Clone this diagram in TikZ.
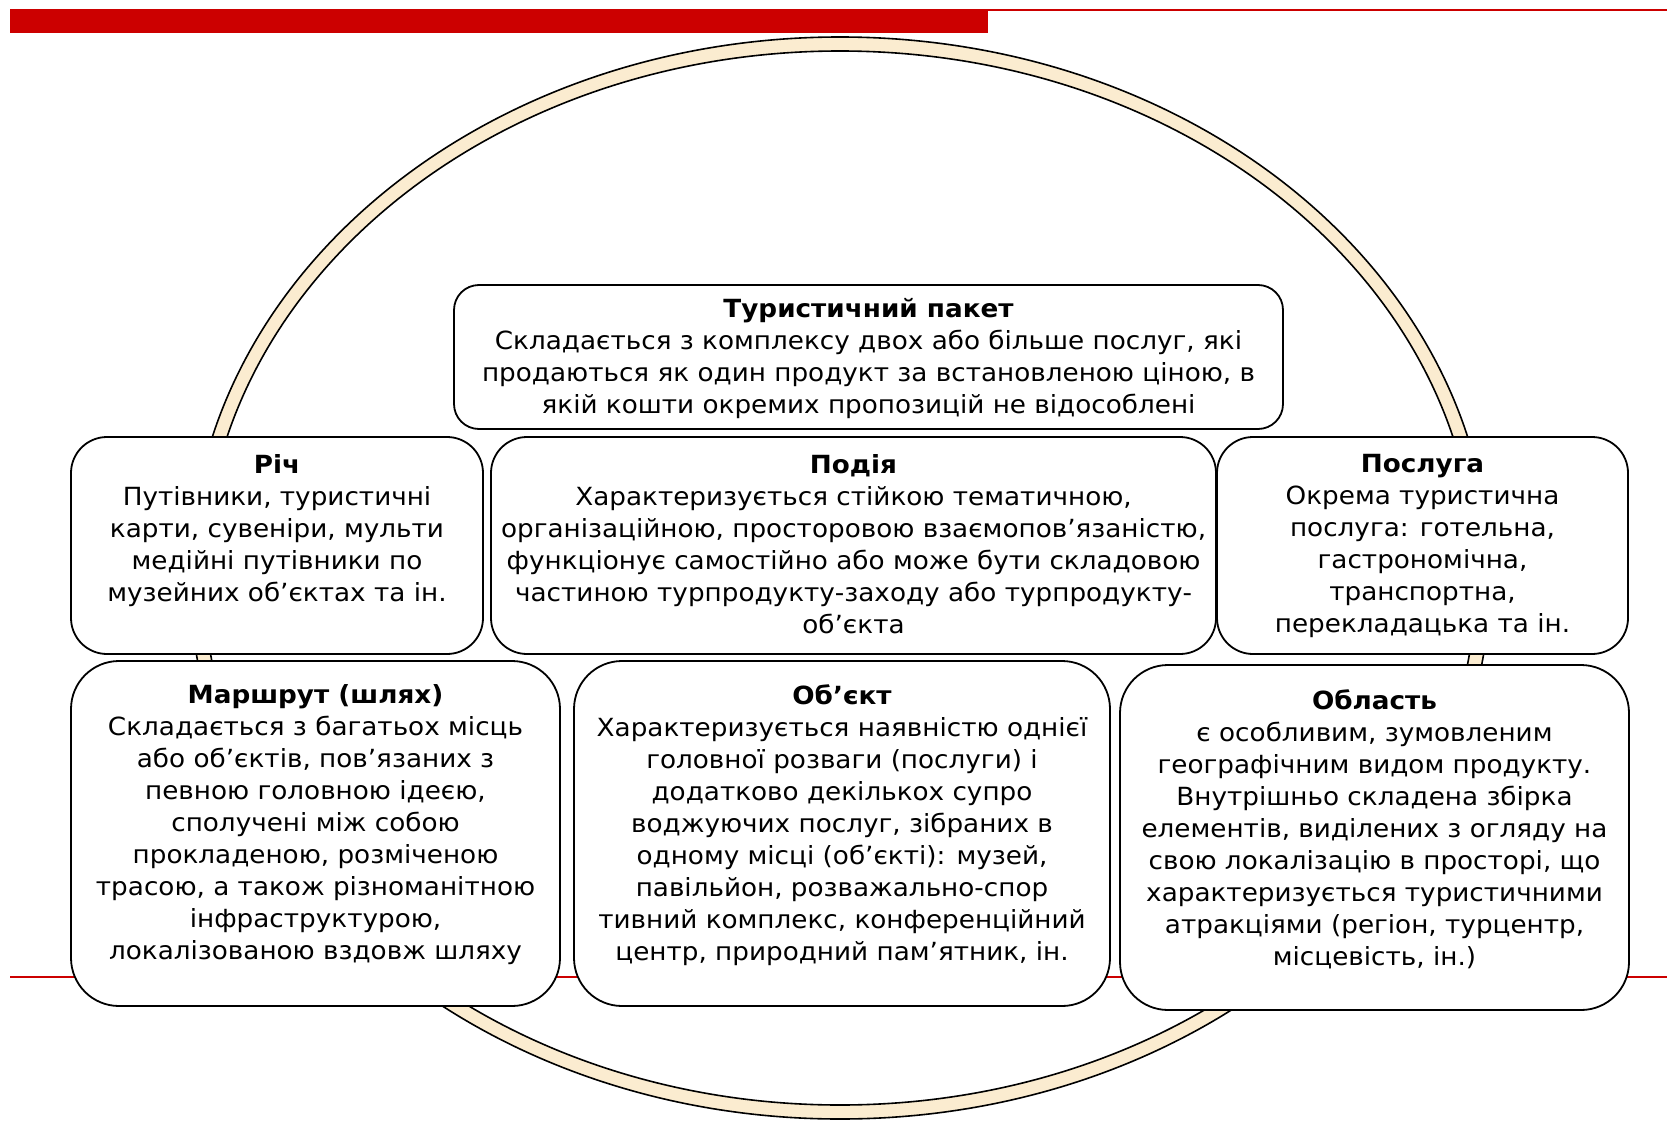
\documentclass[tikz,border=0pt]{standalone}
\usepackage{fontspec}
\setmainfont[FakeStretch=1.05]{DejaVu Sans}
\usetikzlibrary{positioning}
\definecolor{redbar}{RGB}{204,0,0}
\definecolor{ringfill}{RGB}{251,236,208}
\begin{document}
\begin{tikzpicture}[x=1pt,y=-1pt,
  box/.style={draw=black, line width=1.8pt, fill=white, inner sep=0pt, rounded corners=#1},
  txt/.style={inner sep=0pt, align=center, font=\fontsize{25}{32}\selectfont}
]
\useasboundingbox (0,0) rectangle (1667,1121);
% red decoration
\fill[redbar] (10,9) rectangle (988,33);
\fill[redbar] (988,9) rectangle (1667,11);
\draw[redbar, line width=2pt] (10,977) -- (1667,977);
% ring
\fill[ringfill, even odd rule] (840,578) ellipse [x radius=650, y radius=541]
                                (840,578) ellipse [x radius=636, y radius=527];
\draw[line width=1.6pt] (840,578) ellipse [x radius=650, y radius=541];
\draw[line width=1.6pt] (840,578) ellipse [x radius=636, y radius=527];
% boxes
\node[box=25pt, minimum width=829pt, minimum height=144pt] (pak) at (868.5,357) {};
\node[box=36pt, minimum width=412pt, minimum height=217pt] (ric) at (277,545.5) {};
\node[box=36pt, minimum width=725pt, minimum height=217pt] (pod) at (853.5,545.5) {};
\node[box=36pt, minimum width=411pt, minimum height=217pt] (pos) at (1422.5,545.5) {};
\node[box=48pt, minimum width=489pt, minimum height=345pt] (mar) at (315.5,833.5) {};
\node[box=48pt, minimum width=536pt, minimum height=345pt] (obk) at (842,833.5) {};
\node[box=48pt, minimum width=509pt, minimum height=345pt] (obl) at (1374.5,837.5) {};
% texts
\node[txt, below=14pt of pak.north] (tpak) {\textbf{Туристичний пакет}\\Складається з комплексу двох або більше послуг, які\\продаються як один продукт за встановленою ціною, в\\якій кошти окремих пропозицій не відособлені};
\node[txt, below=18pt of ric.north] (tric) {\textbf{Річ}\\Путівники, туристичні\\карти, сувеніри, мульти\\медійні путівники по\\музейних об’єктах та ін.};
\node[txt, below=18pt of pod.north] (tpod) {\textbf{Подія}\\Характеризується стійкою тематичною,\\організаційною, просторовою взаємопов’язаністю,\\функціонує самостійно або може бути складовою\\частиною турпродукту-заходу або турпродукту-\\об’єкта};
\node[txt, below=18pt of pos.north] (tpos) {\textbf{Послуга}\\Окрема туристична\\послуга: готельна,\\гастрономічна,\\транспортна,\\перекладацька та ін.};
\node[txt, below=24pt of mar.north] (tmar) {\textbf{Маршрут (шлях)}\\Складається з багатьох місць\\або об’єктів, пов’язаних з\\певною головною ідеєю,\\сполучені між собою\\прокладеною, розміченою\\трасою, а також різноманітною\\інфраструктурою,\\локалізованою вздовж шляху};
\node[txt, below=24pt of obk.north] (tobk) {\textbf{Об’єкт}\\Характеризується наявністю однієї\\головної розваги (послуги) і\\додатково декількох супро\\воджуючих послуг, зібраних в\\одному місці (об’єкті): музей,\\павільйон, розважально-спор\\тивний комплекс, конференційний\\центр, природний пам’ятник, ін.};
\node[txt, below=25pt of obl.north] (tobl) {\textbf{Область}\\є особливим, зумовленим\\географічним видом продукту.\\Внутрішньо складена збірка\\елементів, виділених з огляду на\\свою локалізацію в просторі, що\\характеризується туристичними\\атракціями (регіон, турцентр,\\місцевість, ін.)};
\end{tikzpicture}
\end{document}
